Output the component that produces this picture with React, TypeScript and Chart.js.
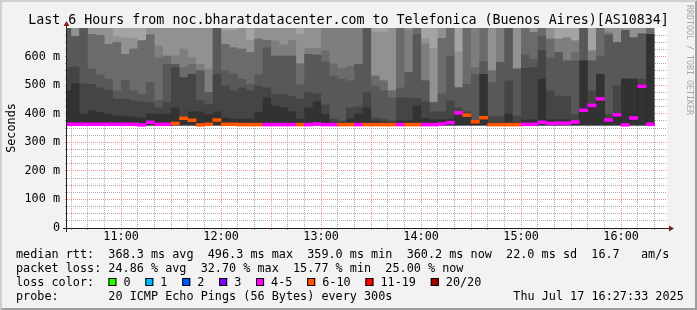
import React, { useEffect, useRef } from 'react';
import { Chart, registerables } from 'chart.js';

Chart.register(...registerables);

// ---------------- data ----------------
// time in minutes after midnight
const RANGE_START = 627.55; // 10:27:33
const RANGE_END = 987.55; // 16:27:33
const FIRST_STEP = 625; // 10:25, start of the first 5-minute step
const STEP = 5;

const X_LABEL_MINUTES = [660, 720, 780, 840, 900, 960];
const X_TICK_LABELS = ['11:00', '12:00', '13:00', '14:00', '15:00', '16:00'];
const Y_LABEL_VALUES = [0, 100, 200, 300, 400, 500, 600];
const Y_TICK_LABELS = ['0', '100 m', '200 m', '300 m', '400 m', '500 m', '600 m'];

// smoke band tops in ms (lightest band first); 720 = above the top of the graph
const smokeA = [
  720, 720, 720, 720, 720, 720, 720, 720, 720, 720,
  720, 720, 720, 720, 720, 720, 720, 720, 720, 720,
  720, 720, 720, 720, 720, 720, 720, 720, 720, 720,
  720, 720, 720, 720, 720, 720, 720, 720, 720, 720,
  720, 720, 720, 720, 720, 720, 720, 720, 720, 720,
  720, 720, 720, 720, 720, 720, 720, 720, 720, 720,
  720, 720, 720, 720, 720, 720, 720, 720, 720, 720,
  720,
];
const smokeB = [
  720, 720, 720, 720, 720, 720, 671, 667, 665, 658,
  720, 720, 720, 720, 720, 720, 720, 720, 720, 691,
  693, 720, 658, 720, 720, 720, 720, 720, 679, 720,
  720, 720, 720, 720, 720, 720, 720, 688, 688, 720,
  720, 720, 720, 665, 630, 720, 720, 618, 720, 720,
  720, 720, 720, 720, 720, 720, 720, 720, 720, 662,
  667, 656, 720, 621, 720, 720, 720, 720, 720, 720,
  720,
];
const smokeC = [
  720, 671, 720, 679, 675, 644, 650, 609, 627, 656,
  677, 638, 603, 603, 627, 597, 574, 557, 720, 644,
  632, 627, 615, 662, 658, 656, 642, 658, 576, 630,
  630, 720, 720, 720, 720, 720, 720, 533, 516, 481,
  720, 693, 720, 646, 440, 665, 720, 492, 720, 720,
  720, 551, 720, 720, 557, 720, 685, 720, 662, 662,
  667, 656, 720, 621, 720, 688, 650, 693, 667, 681,
  720,
];
const smokeD = [
  720, 671, 720, 679, 675, 644, 650, 609, 627, 656,
  677, 597, 603, 574, 563, 574, 551, 475, 720, 644,
  632, 627, 615, 662, 658, 603, 603, 603, 576, 609,
  606, 621, 576, 560, 568, 574, 720, 533, 516, 481,
  720, 545, 720, 516, 440, 665, 720, 492, 720, 563,
  720, 551, 580, 720, 557, 720, 685, 720, 662, 615,
  586, 615, 720, 586, 720, 677, 650, 693, 667, 681,
  720,
];
const smokeE = [
  720, 671, 720, 557, 537, 522, 481, 518, 481, 469,
  510, 448, 574, 574, 527, 539, 551, 475, 720, 551,
  541, 522, 504, 537, 632, 603, 603, 603, 502, 609,
  606, 583, 533, 522, 516, 574, 720, 498, 481, 457,
  492, 545, 679, 516, 440, 471, 603, 492, 504, 539,
  583, 510, 580, 720, 557, 607, 592, 673, 597, 615,
  586, 586, 720, 586, 603, 677, 650, 693, 667, 681,
  679,
];
const smokeF = [
  563, 565, 506, 504, 492, 483, 452, 452, 446, 443,
  440, 422, 440, 563, 527, 539, 446, 434, 539, 498,
  481, 492, 481, 498, 492, 469, 469, 463, 452, 475,
  471, 432, 382, 376, 422, 425, 475, 387, 382, 376,
  457, 457, 455, 443, 408, 408, 446, 422, 408, 376,
  539, 393, 393, 516, 393, 560, 563, 623, 481, 463,
  463, 399, 586, 481, 539, 399, 498, 522, 522, 522,
  679,
];
const smokeG = [
  481, 506, 401, 411, 405, 399, 393, 393, 390, 387,
  401, 399, 399, 422, 387, 408, 408, 399, 408, 387,
  382, 382, 382, 405, 457, 428, 422, 408, 382, 422,
  443, 399, 370, 370, 382, 401, 422, 375, 372, 370,
  376, 376, 428, 385, 380, 380, 382, 407, 400, 375,
  539, 370, 370, 401, 370, 380, 380, 522, 380, 380,
  380, 375, 586, 434, 539, 385, 399, 522, 522, 504,
  679,
];
// median rtt per step (ms)
const medianRtt = [
  363, 363, 363, 363, 363, 363, 363, 363, 363, 361,
  370, 363, 363, 366, 384, 377, 361, 363, 378, 363,
  363, 362, 362, 362, 362, 362, 362, 362, 362, 362,
  364, 362, 362, 362, 362, 362, 362, 362, 362, 362,
  362, 362, 362, 362, 362, 364, 369, 403, 395, 372,
  386, 362, 362, 362, 362, 363, 363, 370, 366, 367,
  367, 371, 412, 429, 452, 378, 396, 361, 385, 496,
  363,
];
// lost pings out of 20 per step
const lostPings = [
  5, 5, 5, 5, 5, 5, 5, 5, 5, 5,
  5, 5, 5, 6, 6, 6, 6, 6, 6, 6,
  6, 6, 6, 6, 5, 5, 5, 5, 6, 5,
  5, 5, 5, 6, 6, 5, 6, 6, 6, 6,
  5, 6, 6, 5, 5, 5, 5, 5, 6, 6,
  6, 6, 6, 6, 6, 5, 5, 5, 5, 5,
  5, 5, 5, 5, 5, 5, 5, 5, 5, 5,
  5,
];
const SMOKE_FLOOR = 360; // lowest rtt seen (~359 ms)

const LOSS_LEVELS = [0, 1, 2, 3, 5, 10, 19, 20];
const LOSS_COLORS = ['#26ff00', '#00b8ff', '#0059ff', '#7e00ff', '#ff00ff', '#ff5500', '#ff0000', '#a10000'];
const LOSS_LABELS = ['0', '1', '2', '3', '4-5', '6-10', '11-19', '20/20'];

const TITLE = 'Last 6 Hours from noc.bharatdatacenter.com to Telefonica (Buenos Aires)[AS10834]';
const STAT_LINES = [
  'median rtt:  368.3 ms avg  496.3 ms max  359.0 ms min  360.2 ms now  22.0 ms sd  16.7   am/s',
  'packet loss: 24.86 % avg  32.70 % max  15.77 % min  25.00 % now',
];
const LOSS_TITLE = 'loss color:';
const PROBE_LINE = 'probe:       20 ICMP Echo Pings (56 Bytes) every 300s';
const DATE_TEXT = 'Thu Jul 17 16:27:33 2025';
const Y_TITLE = 'Seconds';
const WATERMARK = 'RRDTOOL / TOBI OETIKER';

// ---------------- styles ----------------
const W = 697;
const H = 310;
const MONO = '"DejaVu Sans Mono", monospace';
const CHAR_W = 7.11;
const SMOKE_COLORS = ['#a4a4a4', '#919191', '#7e7e7e', '#6b6b6b', '#585858', '#454545', '#323232'];
const GRID = 'rgba(143,143,143,0.75)';
const MGRID = 'rgba(222,79,79,0.6)';
const MEDIAN_HALF = 5;

const lossColor = (n: number) => {
  for (let i = 0; i < LOSS_LEVELS.length; i++) if (n <= LOSS_LEVELS[i]) return LOSS_COLORS[i];
  return LOSS_COLORS[LOSS_COLORS.length - 1];
};

const stepPoints = (arr: number[]) => {
  const pts = arr.map((v, i) => ({ x: FIRST_STEP + STEP * i, y: v }));
  pts.push({ x: FIRST_STEP + STEP * arr.length, y: arr[arr.length - 1] });
  return pts;
};

const decor = {
  id: 'rrdDecor',
  beforeDraw(chart: any) {
    const { ctx, chartArea: a } = chart;
    ctx.save();
    ctx.fillStyle = '#f2f2f2';
    ctx.fillRect(0, 0, W, H);
    ctx.fillStyle = '#cfcfcf';
    ctx.beginPath();
    ctx.moveTo(0, 0); ctx.lineTo(W, 0); ctx.lineTo(W - 2, 2); ctx.lineTo(2, 2); ctx.lineTo(2, H - 2); ctx.lineTo(0, H);
    ctx.closePath(); ctx.fill();
    ctx.fillStyle = '#9e9e9e';
    ctx.beginPath();
    ctx.moveTo(W, 0); ctx.lineTo(W, H); ctx.lineTo(0, H); ctx.lineTo(2, H - 2); ctx.lineTo(W - 2, H - 2); ctx.lineTo(W - 2, 2);
    ctx.closePath(); ctx.fill();
    ctx.fillStyle = '#ffffff';
    ctx.fillRect(a.left, a.top, a.right - a.left, a.bottom - a.top);
    ctx.restore();
  },
  afterDraw(chart: any) {
    const { ctx, chartArea: a } = chart;
    ctx.save();
    // axes
    ctx.strokeStyle = '#1f1f1f';
    ctx.lineWidth = 1;
    ctx.beginPath();
    ctx.moveTo(a.left - 4, a.bottom + 0.5); ctx.lineTo(a.right + 4, a.bottom + 0.5);
    ctx.moveTo(a.left - 0.5, a.bottom + 4); ctx.lineTo(a.left - 0.5, a.top - 4);
    ctx.stroke();
    ctx.fillStyle = '#801f1f';
    ctx.beginPath();
    ctx.moveTo(a.right + 2, a.bottom - 2.5); ctx.lineTo(a.right + 2, a.bottom + 3.5); ctx.lineTo(a.right + 7, a.bottom + 0.5);
    ctx.closePath(); ctx.fill();
    ctx.beginPath();
    ctx.moveTo(a.left - 3.5, a.top - 2); ctx.lineTo(a.left + 2.5, a.top - 2); ctx.lineTo(a.left - 0.5, a.top - 7);
    ctx.closePath(); ctx.fill();

    // title
    ctx.fillStyle = '#000000';
    ctx.font = `13.3px ${MONO}`;
    ctx.textAlign = 'center';
    ctx.textBaseline = 'alphabetic';
    ctx.fillText(TITLE, W / 2, 24);

    // y title
    ctx.save();
    ctx.translate(11.5, (a.top + a.bottom) / 2);
    ctx.rotate(-Math.PI / 2);
    ctx.font = `11.8px ${MONO}`;
    ctx.textAlign = 'center';
    ctx.textBaseline = 'middle';
    ctx.fillText(Y_TITLE, 0, 0);
    ctx.restore();

    // legend
    ctx.font = `11.8px ${MONO}`;
    ctx.textAlign = 'left';
    ctx.textBaseline = 'alphabetic';
    const x0 = 16;
    ctx.fillText(STAT_LINES[0], x0, 258);
    ctx.fillText(STAT_LINES[1], x0, 272);
    ctx.fillText(LOSS_TITLE, x0, 286);
    let bx = x0 + 13 * CHAR_W;
    for (let i = 0; i < LOSS_LABELS.length; i++) {
      ctx.fillStyle = LOSS_COLORS[i];
      ctx.fillRect(bx, 278, 8, 8);
      ctx.strokeStyle = '#000000';
      ctx.strokeRect(bx + 0.5, 278.5, 7, 7);
      ctx.fillStyle = '#000000';
      ctx.fillText(LOSS_LABELS[i], bx + 15, 286);
      bx += 15 + LOSS_LABELS[i].length * CHAR_W + 14.8;
    }
    ctx.fillText(PROBE_LINE, x0, 300);
    ctx.fillText(DATE_TEXT, 513.3, 300);

    // watermark
    ctx.save();
    ctx.translate(689.5, 5);
    ctx.rotate(Math.PI / 2);
    ctx.font = `8.3px ${MONO}`;
    ctx.fillStyle = '#a8a8a8';
    ctx.textAlign = 'left';
    ctx.textBaseline = 'middle';
    ctx.fillText(WATERMARK, 0, 0);
    ctx.restore();
    ctx.restore();
  },
};

export default function App() {
  const ref = useRef<HTMLCanvasElement>(null);
  useEffect(() => {
    document.body.style.margin = '0';
    const canvas = ref.current;
    if (!canvas) return;

    const bands = [smokeA, smokeB, smokeC, smokeD, smokeE, smokeF, smokeG];
    const bandSets = bands
      .map((arr, i) => ({
        type: 'line' as const,
        label: `smoke ${i + 1}`,
        data: stepPoints(arr),
        stepped: 'before' as const,
        borderColor: 'rgba(0,0,0,0)',
        borderWidth: 0,
        backgroundColor: SMOKE_COLORS[i],
        pointRadius: 0,
        fill: { value: SMOKE_FLOOR },
        clip: 0,
      }))
      .reverse(); // darkest first => drawn last

    const chart = new Chart(canvas, {
      type: 'line',
      data: {
        datasets: [
          {
            type: 'bar',
            label: 'median rtt',
            data: medianRtt.map((m, i) => ({ x: FIRST_STEP + STEP * i + STEP / 2, y: [m - MEDIAN_HALF, m + MEDIAN_HALF] })) as any,
            backgroundColor: lostPings.map(lossColor),
            borderWidth: 0,
            borderSkipped: false,
            barPercentage: 1,
            categoryPercentage: 1,
            clip: 0,
          } as any,
          {
            type: 'line',
            label: 'median',
            data: stepPoints(medianRtt),
            stepped: 'before',
            borderColor: '#202020',
            borderWidth: 1,
            borderDash: [1, 1],
            pointRadius: 0,
            fill: false,
            clip: 0,
          } as any,
          ...(bandSets as any[]),
        ],
      },
      options: {
        responsive: false,
        animation: false,
        devicePixelRatio: 1,
        events: [],
        layout: { padding: { left: 0, right: 30, top: 28, bottom: 0 } },
        plugins: {
          legend: { display: false },
          tooltip: { enabled: false },
          title: { display: false },
        },
        scales: {
          x: {
            type: 'linear',
            min: RANGE_START,
            max: RANGE_END,
            offset: false,
            z: 1,
            afterBuildTicks: (s: any) => {
              const t: { value: number }[] = [];
              for (let v = Math.ceil(RANGE_START / 10) * 10; v <= RANGE_END; v += 10) t.push({ value: v });
              s.ticks = t;
            },
            afterFit: (s: any) => { s.height = H - 228; },
            grid: {
              offset: false,
              color: (c: any) => (c.tick && c.tick.value % 30 === 0 ? MGRID : GRID),
              tickColor: (c: any) => (c.tick && c.tick.value % 30 === 0 ? MGRID : GRID),
              lineWidth: 1,
              drawTicks: true,
              tickLength: 2,
            },
            border: { display: false, dash: [1, 1] },
            ticks: {
              autoSkip: false,
              maxRotation: 0,
              minRotation: 0,
              padding: 0,
              color: '#000000',
              font: { family: MONO, size: 11.8 },
              callback: (v: any) => {
                const i = X_LABEL_MINUTES.indexOf(Number(v));
                return i >= 0 ? X_TICK_LABELS[i] : '';
              },
            },
          },
          y: {
            type: 'linear',
            min: 0,
            max: 700,
            z: 1,
            afterBuildTicks: (s: any) => {
              const t: { value: number }[] = [];
              for (let v = 0; v < 700; v += 25) t.push({ value: v });
              s.ticks = t;
            },
            afterFit: (s: any) => { s.width = 67; },
            grid: {
              color: (c: any) => (c.tick && c.tick.value % 100 === 0 ? MGRID : GRID),
              tickColor: (c: any) => (c.tick && c.tick.value % 100 === 0 ? MGRID : GRID),
              lineWidth: 1,
              drawTicks: true,
              tickLength: 2,
            },
            border: { display: false, dash: [1, 1] },
            ticks: {
              autoSkip: false,
              padding: 5,
              color: '#000000',
              font: { family: MONO, size: 11.8 },
              callback: (v: any) => {
                const i = Y_LABEL_VALUES.indexOf(Number(v));
                return i >= 0 ? Y_TICK_LABELS[i] : '';
              },
            },
          },
        },
      } as any,
      plugins: [decor],
    });
    return () => chart.destroy();
  }, []);

  return (
    <div style={{ position: 'absolute', left: 0, top: 0, width: W, height: H }}>
      <canvas ref={ref} width={W} height={H} style={{ display: 'block', width: W, height: H }} />
    </div>
  );
}
